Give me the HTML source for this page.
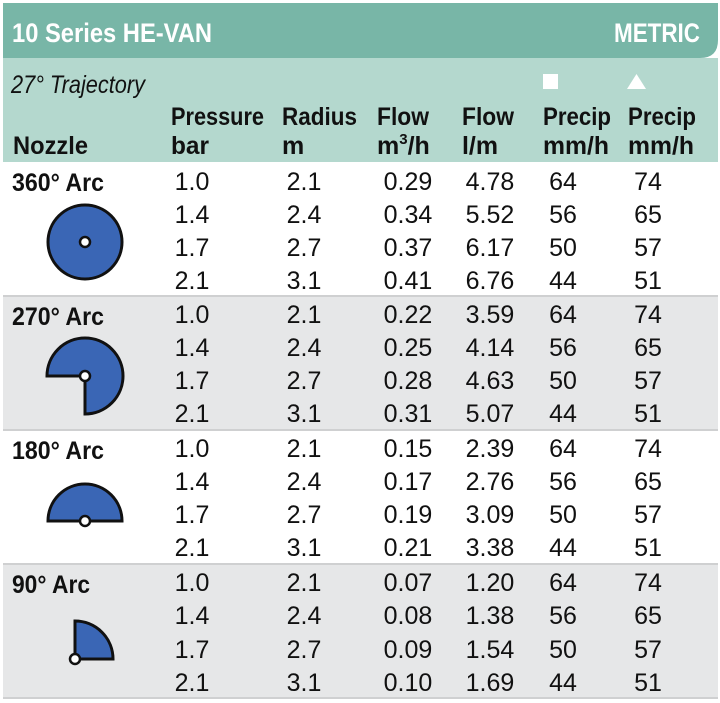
<!DOCTYPE html>
<html><head><meta charset="utf-8"><style>
html,body{margin:0;padding:0;background:#fff;}
svg{display:block;}
text{font-family:"Liberation Sans",sans-serif;fill:#111;}
.h{font-weight:bold;font-size:25px;}
.d{font-size:25px;text-anchor:middle;}
.n{font-weight:bold;font-size:25px;}
</style></head><body>
<svg width="720" height="703" viewBox="0 0 720 703" xmlns="http://www.w3.org/2000/svg">
<path d="M3 3 H718 V40 Q718 58 700 58 H3 Z" fill="#78b6a7"/>
<rect x="3" y="58" width="715" height="104" fill="#b4d8ce"/>
<rect x="3" y="297" width="715" height="133" fill="#e6e7e8"/>
<rect x="3" y="565" width="715" height="133" fill="#e6e7e8"/>
<g stroke="#cfd0d1" stroke-width="2">
<line x1="3" y1="296" x2="718" y2="296"/>
<line x1="3" y1="430" x2="718" y2="430"/>
<line x1="3" y1="564" x2="718" y2="564"/>
<line x1="3" y1="698" x2="718" y2="698"/>
</g>
<text x="12" y="42" style="font-weight:bold;font-size:27px;fill:#fff" textLength="200" lengthAdjust="spacingAndGlyphs">10 Series HE-VAN</text>
<text x="700" y="42" text-anchor="end" style="font-weight:bold;font-size:27px;fill:#fff" textLength="86" lengthAdjust="spacingAndGlyphs">METRIC</text>
<text x="11" y="93" style="font-style:italic;font-size:25px" textLength="134" lengthAdjust="spacingAndGlyphs">27° Trajectory</text>
<rect x="543" y="74" width="15" height="15" fill="#fff"/>
<polygon points="627,89 646,89 636.5,74" fill="#fff"/>
<text class="h" x="171" y="125" textLength="93" lengthAdjust="spacingAndGlyphs">Pressure</text>
<text class="h" x="171" y="154" textLength="38" lengthAdjust="spacingAndGlyphs">bar</text>
<text class="h" x="282" y="125" textLength="75" lengthAdjust="spacingAndGlyphs">Radius</text>
<text class="h" x="282" y="154">m</text>
<text class="h" x="377" y="125" textLength="52" lengthAdjust="spacingAndGlyphs">Flow</text>
<text class="h" x="377" y="154">m<tspan dy="-10" style="font-size:15px">3</tspan><tspan dy="10">/h</tspan></text>
<text class="h" x="462" y="125" textLength="52" lengthAdjust="spacingAndGlyphs">Flow</text>
<text class="h" x="462" y="154" textLength="36" lengthAdjust="spacingAndGlyphs">l/m</text>
<text class="h" x="543" y="125" textLength="68" lengthAdjust="spacingAndGlyphs">Precip</text>
<text class="h" x="543" y="154" textLength="66" lengthAdjust="spacingAndGlyphs">mm/h</text>
<text class="h" x="628" y="125" textLength="68" lengthAdjust="spacingAndGlyphs">Precip</text>
<text class="h" x="628" y="154" textLength="66" lengthAdjust="spacingAndGlyphs">mm/h</text>
<text class="h" x="13" y="154" textLength="75" lengthAdjust="spacingAndGlyphs">Nozzle</text>
<text class="n" x="12" y="191" textLength="92" lengthAdjust="spacingAndGlyphs">360° Arc</text>
<text class="n" x="12" y="325" textLength="92" lengthAdjust="spacingAndGlyphs">270° Arc</text>
<text class="n" x="12" y="459" textLength="92" lengthAdjust="spacingAndGlyphs">180° Arc</text>
<text class="n" x="12" y="593" textLength="78" lengthAdjust="spacingAndGlyphs">90° Arc</text>
<g fill="#3a66b5" stroke="#111" stroke-width="3">
<circle cx="85" cy="242" r="37"/>
<path d="M85 376 H47 A38 38 0 1 1 85 414 Z"/>
<path d="M48 521 A37 37 0 0 1 122 521 Z"/>
<path d="M75 659 V621 A38 38 0 0 1 113 659 Z"/>
</g>
<g fill="#fff" stroke="#111" stroke-width="2.5">
<circle cx="85" cy="242" r="5"/>
<circle cx="85" cy="376" r="5"/>
<circle cx="85" cy="521" r="5"/>
<circle cx="75" cy="659" r="5"/>
</g>
<g>
<text class="d" x="192" y="190">1.0</text><text class="d" x="304" y="190">2.1</text><text class="d" x="408" y="190">0.29</text><text class="d" x="490" y="190">4.78</text><text class="d" x="563" y="190">64</text><text class="d" x="648" y="190">74</text>
<text class="d" x="192" y="223">1.4</text><text class="d" x="304" y="223">2.4</text><text class="d" x="408" y="223">0.34</text><text class="d" x="490" y="223">5.52</text><text class="d" x="563" y="223">56</text><text class="d" x="648" y="223">65</text>
<text class="d" x="192" y="256">1.7</text><text class="d" x="304" y="256">2.7</text><text class="d" x="408" y="256">0.37</text><text class="d" x="490" y="256">6.17</text><text class="d" x="563" y="256">50</text><text class="d" x="648" y="256">57</text>
<text class="d" x="192" y="289">2.1</text><text class="d" x="304" y="289">3.1</text><text class="d" x="408" y="289">0.41</text><text class="d" x="490" y="289">6.76</text><text class="d" x="563" y="289">44</text><text class="d" x="648" y="289">51</text>
<text class="d" x="192" y="323">1.0</text><text class="d" x="304" y="323">2.1</text><text class="d" x="408" y="323">0.22</text><text class="d" x="490" y="323">3.59</text><text class="d" x="563" y="323">64</text><text class="d" x="648" y="323">74</text>
<text class="d" x="192" y="356">1.4</text><text class="d" x="304" y="356">2.4</text><text class="d" x="408" y="356">0.25</text><text class="d" x="490" y="356">4.14</text><text class="d" x="563" y="356">56</text><text class="d" x="648" y="356">65</text>
<text class="d" x="192" y="389">1.7</text><text class="d" x="304" y="389">2.7</text><text class="d" x="408" y="389">0.28</text><text class="d" x="490" y="389">4.63</text><text class="d" x="563" y="389">50</text><text class="d" x="648" y="389">57</text>
<text class="d" x="192" y="422">2.1</text><text class="d" x="304" y="422">3.1</text><text class="d" x="408" y="422">0.31</text><text class="d" x="490" y="422">5.07</text><text class="d" x="563" y="422">44</text><text class="d" x="648" y="422">51</text>
<text class="d" x="192" y="457">1.0</text><text class="d" x="304" y="457">2.1</text><text class="d" x="408" y="457">0.15</text><text class="d" x="490" y="457">2.39</text><text class="d" x="563" y="457">64</text><text class="d" x="648" y="457">74</text>
<text class="d" x="192" y="490">1.4</text><text class="d" x="304" y="490">2.4</text><text class="d" x="408" y="490">0.17</text><text class="d" x="490" y="490">2.76</text><text class="d" x="563" y="490">56</text><text class="d" x="648" y="490">65</text>
<text class="d" x="192" y="523">1.7</text><text class="d" x="304" y="523">2.7</text><text class="d" x="408" y="523">0.19</text><text class="d" x="490" y="523">3.09</text><text class="d" x="563" y="523">50</text><text class="d" x="648" y="523">57</text>
<text class="d" x="192" y="556">2.1</text><text class="d" x="304" y="556">3.1</text><text class="d" x="408" y="556">0.21</text><text class="d" x="490" y="556">3.38</text><text class="d" x="563" y="556">44</text><text class="d" x="648" y="556">51</text>
<text class="d" x="192" y="591">1.0</text><text class="d" x="304" y="591">2.1</text><text class="d" x="408" y="591">0.07</text><text class="d" x="490" y="591">1.20</text><text class="d" x="563" y="591">64</text><text class="d" x="648" y="591">74</text>
<text class="d" x="192" y="624">1.4</text><text class="d" x="304" y="624">2.4</text><text class="d" x="408" y="624">0.08</text><text class="d" x="490" y="624">1.38</text><text class="d" x="563" y="624">56</text><text class="d" x="648" y="624">65</text>
<text class="d" x="192" y="658">1.7</text><text class="d" x="304" y="658">2.7</text><text class="d" x="408" y="658">0.09</text><text class="d" x="490" y="658">1.54</text><text class="d" x="563" y="658">50</text><text class="d" x="648" y="658">57</text>
<text class="d" x="192" y="691">2.1</text><text class="d" x="304" y="691">3.1</text><text class="d" x="408" y="691">0.10</text><text class="d" x="490" y="691">1.69</text><text class="d" x="563" y="691">44</text><text class="d" x="648" y="691">51</text>
</g>
</svg>
</body></html>
